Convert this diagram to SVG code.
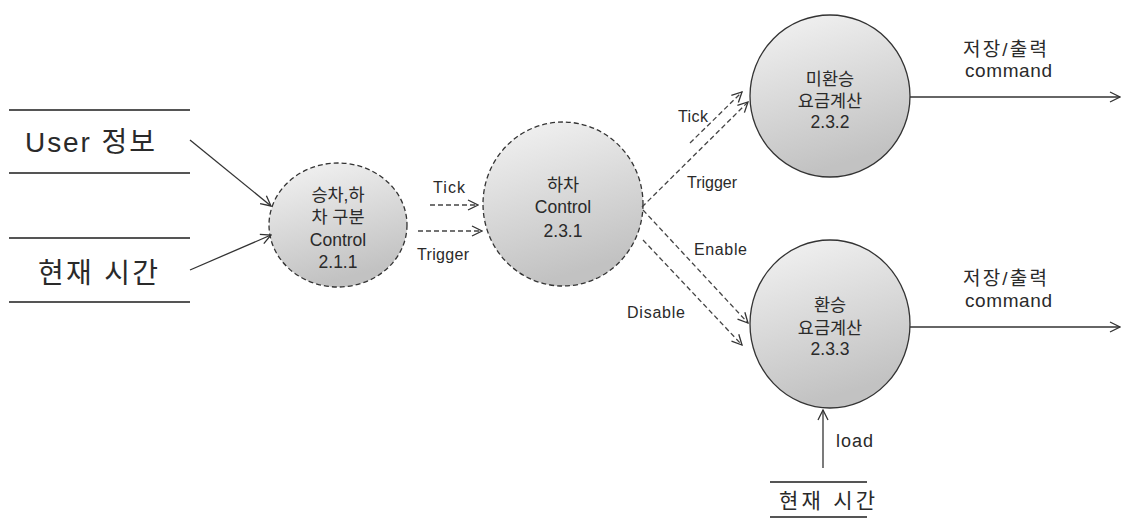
<svg xmlns="http://www.w3.org/2000/svg" width="1122" height="519" viewBox="0 0 1122 519">
<defs>
<linearGradient id="g" x1="0" y1="0" x2="0.3" y2="1">
<stop offset="0" stop-color="#f4f4f4"/>
<stop offset="1" stop-color="#c2c2c2"/>
</linearGradient>
<marker id="a" markerWidth="12" markerHeight="12" refX="11" refY="6" orient="auto" markerUnits="userSpaceOnUse">
<path d="M1,1 L11,6 L1,11" fill="none" stroke="#333" stroke-width="1.3"/>
</marker>
<style>
text{font-family:"Liberation Sans","Noto Sans CJK KR",sans-serif;fill:#2a2a2a}
.node{fill:url(#g);stroke:#333;stroke-width:1.3}
.dash{stroke-dasharray:5,3}
.c{stroke:#333;stroke-width:1.3;fill:none}
.d{stroke:#444;stroke-width:1.3;fill:none;stroke-dasharray:5,3}
.store{stroke:#555;stroke-width:2;fill:none}
.nt{font-size:17.5px;text-anchor:middle}
.lb{font-size:16px}
.out{font-size:19px}
</style>
</defs>
<g id="store-user">
<line class="store" x1="9" y1="110" x2="190" y2="110"/>
<line class="store" x1="9" y1="173" x2="190" y2="173"/>
<text x="25" y="152" font-size="28" textLength="130" lengthAdjust="spacing">User 정보</text>
</g>
<g id="store-time">
<line class="store" x1="9" y1="238" x2="190" y2="238"/>
<line class="store" x1="9" y1="302" x2="190" y2="302"/>
<text x="38" y="283" font-size="28" textLength="120" lengthAdjust="spacing">현재 시간</text>
</g>
<g id="store-time2">
<line class="store" x1="770" y1="482" x2="867" y2="482"/>
<line class="store" x1="770" y1="517" x2="867" y2="517"/>
<text x="779" y="508" font-size="21" textLength="96" lengthAdjust="spacing">현재 시간</text>
</g>
<g id="n1">
<ellipse class="node dash" cx="338" cy="225" rx="69" ry="62"/>
<text class="nt" x="338" y="201">승차,하</text>
<text class="nt" x="338" y="223">차 구분</text>
<text class="nt" x="338" y="246">Control</text>
<text class="nt" x="338" y="268">2.1.1</text>
</g>
<g id="n2">
<ellipse class="node dash" cx="563" cy="204" rx="80" ry="82"/>
<text class="nt" x="563" y="191">하차</text>
<text class="nt" x="563" y="213">Control</text>
<text class="nt" x="563" y="237">2.3.1</text>
</g>
<g id="n3">
<ellipse class="node" cx="830" cy="96" rx="80" ry="81"/>
<text class="nt" x="830" y="85">미환승</text>
<text class="nt" x="830" y="107">요금계산</text>
<text class="nt" x="830" y="128">2.3.2</text>
</g>
<g id="n4">
<ellipse class="node" cx="830" cy="324" rx="80" ry="84"/>
<text class="nt" x="830" y="311">환승</text>
<text class="nt" x="830" y="334">요금계산</text>
<text class="nt" x="830" y="355">2.3.3</text>
</g>
<g id="connectors">
<line class="c" x1="190" y1="140" x2="271" y2="206" marker-end="url(#a)"/>
<line class="c" x1="190" y1="270" x2="271" y2="235" marker-end="url(#a)"/>
<line class="d" x1="430" y1="205" x2="478" y2="205" marker-end="url(#a)"/>
<text class="lb" x="433" y="193" textLength="32" lengthAdjust="spacing">Tick</text>
<line class="d" x1="418" y1="231" x2="482" y2="231" marker-end="url(#a)"/>
<text class="lb" x="417" y="260" textLength="52" lengthAdjust="spacing">Trigger</text>
<line class="d" x1="690" y1="143" x2="742" y2="92" marker-end="url(#a)"/>
<line class="d" x1="642" y1="207" x2="748" y2="102" marker-end="url(#a)"/>
<line class="d" x1="643" y1="210" x2="748" y2="323" marker-end="url(#a)"/>
<line class="d" x1="643" y1="240" x2="742" y2="345" marker-end="url(#a)"/>
<text class="lb" x="678" y="122" textLength="30" lengthAdjust="spacing">Tick</text>
<text class="lb" x="687" y="188" textLength="50" lengthAdjust="spacing">Trigger</text>
<text class="lb" x="694" y="255" textLength="53" lengthAdjust="spacing">Enable</text>
<text class="lb" x="627" y="318" textLength="58" lengthAdjust="spacing">Disable</text>
<line class="c" x1="910" y1="97" x2="1120" y2="97" marker-end="url(#a)"/>
<text class="out" x="963" y="56" textLength="84" lengthAdjust="spacing">저장/출력</text>
<text class="out" x="965" y="77" textLength="87" lengthAdjust="spacing">command</text>
<line class="c" x1="910" y1="327" x2="1120" y2="327" marker-end="url(#a)"/>
<text class="out" x="963" y="285" textLength="84" lengthAdjust="spacing">저장/출력</text>
<text class="out" x="965" y="307" textLength="87" lengthAdjust="spacing">command</text>
<line class="c" x1="823" y1="468" x2="823" y2="410" marker-end="url(#a)"/>
<text x="836" y="447" font-size="18" textLength="37" lengthAdjust="spacing">load</text>
</g>
</svg>
